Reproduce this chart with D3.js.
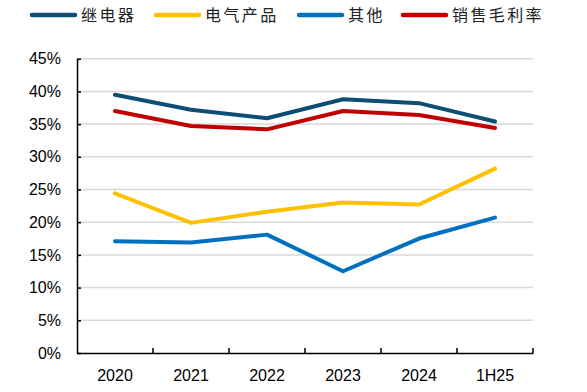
<!DOCTYPE html>
<html><head><meta charset="utf-8">
<script src="https://cdn.jsdelivr.net/npm/d3@7"></script>
<style>body{margin:0;background:#fff;}svg{display:block;}</style>
</head><body>
<script>
const categories = ["2020","2021","2022","2023","2024","1H25"];
const relay = [39.5, 37.2, 35.9, 38.8, 38.2, 35.4];
const electrical = [24.4, 19.9, 21.6, 23.0, 22.7, 28.2];
const other = [17.1, 16.9, 18.1, 12.5, 17.5, 20.7];
const grossMargin = [37.0, 34.7, 34.2, 37.0, 36.4, 34.4];
const yTicks = [0,5,10,15,20,25,30,35,40,45];
const seriesNames = ["继电器","电气产品","其他","销售毛利率"];
const seriesColors = ["#0E4D74","#FFC000","#0070C0","#C00000"];

const series = [relay, electrical, other, grossMargin].map((v,i)=>({name:seriesNames[i], color:seriesColors[i], values:v}));

const W=587,H=392;
const svg=d3.select("body").append("svg").attr("width",W).attr("height",H);
const m={left:77,right:533,top:58.7,bottom:353};
const x=d3.scaleBand().domain(categories).range([m.left,m.right]);
const y=d3.scaleLinear().domain([0,45]).range([m.bottom,m.top]);

// gridlines
svg.append("g").selectAll("line").data(yTicks.filter(d=>d>0)).join("line")
  .attr("x1",m.left).attr("x2",m.right).attr("y1",d=>y(d)).attr("y2",d=>y(d))
  .attr("stroke","#d9d9d9").attr("stroke-width",1.5);

// y axis
const ya=svg.append("g").attr("transform",`translate(${m.left},0)`)
  .call(d3.axisLeft(y).tickValues(yTicks).tickFormat(d=>d+"%").tickSizeInner(-4).tickSizeOuter(0).tickPadding(16));
ya.select(".domain").attr("stroke","#000").attr("stroke-width",1.5);
ya.selectAll(".tick line").attr("stroke","#000").attr("stroke-width",1.5);
ya.selectAll("text").attr("font-family","Liberation Sans, Arial, sans-serif").attr("font-size",16).attr("fill","#000");

// x axis
const xa=svg.append("g").attr("transform",`translate(0,${m.bottom})`)
  .call(d3.axisBottom(x).tickSize(0).tickPadding(17));
xa.select(".domain").attr("stroke","#000").attr("stroke-width",1.5);
xa.selectAll("text").attr("font-family","Liberation Sans, Arial, sans-serif").attr("font-size",16).attr("fill","#000");
const bounds = categories.map(c=>x(c)+x.bandwidth());
svg.append("g").selectAll("line").data(bounds).join("line")
  .attr("x1",d=>d).attr("x2",d=>d).attr("y1",m.bottom).attr("y2",m.bottom-5)
  .attr("stroke","#000").attr("stroke-width",1.5);

// lines
const line=d3.line().x((d,i)=>x(categories[i])+x.bandwidth()/2).y(d=>y(d));
svg.append("g").selectAll("path").data(series).join("path")
  .attr("d",d=>line(d.values)).attr("fill","none").attr("stroke",d=>d.color)
  .attr("stroke-width",4).attr("stroke-linejoin","round").attr("stroke-linecap","round");

// legend
const legX=[30,154,297,401];
const lg=svg.append("g").selectAll("g").data(series).join("g")
  .attr("transform",(d,i)=>`translate(${legX[i]},15)`);
lg.append("line").attr("x1",2).attr("x2",45).attr("y1",0).attr("y2",0)
  .attr("stroke",d=>d.color).attr("stroke-width",4.5).attr("stroke-linecap","round");
lg.append("text").attr("x",51).attr("y",6).text(d=>d.name)
  .attr("font-family","Noto Sans CJK SC, sans-serif").attr("font-size",16)
  .attr("letter-spacing",2.4).attr("fill","#222");
</script>
</body></html>
